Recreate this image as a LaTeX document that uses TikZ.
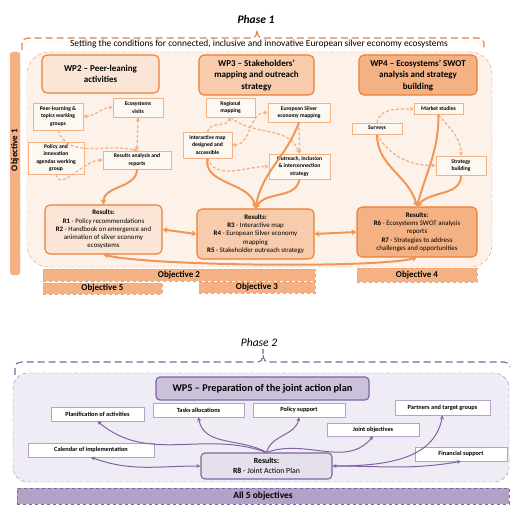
\documentclass[tikz,border=0pt]{standalone}
\usepackage{fontspec}
\setmainfont{Carlito}
\usepackage{tikz}
\usetikzlibrary{arrows.meta, positioning}
\definecolor{accent}{RGB}{237,125,49}
\definecolor{flowcol}{RGB}{241,150,84}
\definecolor{peachline}{RGB}{244,177,131}
\definecolor{wpfillA}{RGB}{251,229,214}
\definecolor{wpfillB}{RGB}{248,203,173}
\definecolor{wpfillC}{RGB}{244,177,131}
\definecolor{regfill}{RGB}{253,242,234}
\definecolor{subfill}{RGB}{254,248,243}
\definecolor{purp}{RGB}{128,100,162}
\definecolor{purplight}{RGB}{179,162,199}
\definecolor{regfillB}{RGB}{240,236,246}
\definecolor{wpfillD}{RGB}{204,193,218}
\definecolor{resfillD}{RGB}{229,224,236}
\newcommand{\sz}[2]{\fontsize{#1}{#2}\selectfont}

\begin{document}
\begin{tikzpicture}[
        x=1pt, y=1pt,
        wh/.style 2 args={minimum width=#1pt, minimum height=#2pt},
        wp/.style={draw=accent, line width=1.1pt, rounded corners=5pt,
                   align=center, inner sep=1pt, font=\sz{9}{11.5}\bfseries},
        sub/.style={draw=peachline, line width=0.6pt, fill=subfill,
                    align=center, inner sep=1pt, font=\sz{5.6}{7.5}\bfseries},
        res/.style={draw=accent, line width=1.1pt, rounded corners=5pt,
                    align=center, inner sep=1pt, font=\sz{6.9}{8.3}},
        obj/.style={draw=accent!70, dashed, fill=wpfillC, inner sep=0pt,
                    font=\sz{9}{10}\bfseries},
        flow/.style={draw=flowcol, line width=2pt, ->,
                     >={Stealth[length=5pt, width=6pt]}},
        link/.style={draw=peachline, line width=1.3pt, dash pattern=on 3pt off 2pt,
                     ->, >={Stealth[length=4pt, width=4.5pt]}},
        brace/.style={line width=1.1pt, dash pattern=on 7pt off 4pt},
        psub/.style={draw=purplight, line width=0.6pt, fill=white,
                     inner sep=1pt, font=\sz{6.3}{7.5}\bfseries},
        plink/.style={draw=purp, line width=1pt, ->,
                      >={Stealth[length=4pt, width=4pt]}},
      ]
        \useasboundingbox (0,0) rectangle (522,522);

        % ── Phase 1 frame ──
        \node[font=\sz{11.5}{13}\bfseries\itshape] (phaseA) at (256,502) {Phase 1};
        \draw[brace, accent] (22,472) -- (22,479) to[out=90,in=180] (28,484)
          -- (252,484) to[out=0,in=-90] (257,493) to[out=-90,in=180] (262,484)
          -- (478,484) to[out=0,in=90] (484,479) -- (484,474);
        \node[font=\sz{9.4}{11}] (goal) at (259,478)
          {Setting the conditions for connected, inclusive and innovative European silver economy ecosystems};
        \node[draw=accent!80, fill=regfill, dash pattern=on 4pt off 2.5pt,
              rounded corners=22pt, wh={465}{215}] (regA) at (259.5,362.5) {};
        \node[obj, rounded corners=3pt, wh={10}{223}] (obj1) at (15,358.5) {};
        \node[font=\sz{9}{10}\bfseries, rotate=90] (obj1txt) at (15,372) {Objective 1};

        % ── Work packages ──
        \node[wp, fill=wpfillA, wh={117}{38}] (wpA) at (100.5,448) {WP2 – Peer-leaning\\activities};
        \node[wp, fill=wpfillB, wh={115}{40}] (wpB) at (256.5,447) {WP3 – Stakeholders’\\mapping and outreach\\strategy};
        \node[wp, fill=wpfillC, wh={118}{40}] (wpC) at (418,447) {WP4 – Ecosystems’ SWOT\\analysis and strategy\\building};

        % ── WP2 activities ──
        \node[sub, wh={50}{27}] (peer)     at (58,405.5)  {Peer-learning \&\\topics working\\groups};
        \node[sub, wh={50}{19}] (visits)   at (138,414.5) {Ecosystems\\visits};
        \node[sub, wh={56}{32}] (policy)   at (56,364)    {Policy and\\innovation\\agendas working\\group};
        \node[sub, wh={68}{18}] (analysis) at (137,362)   {Results analysis and\\reports};

        \draw[link, <->] (peer.east) to[out=0,in=180] (visits.west);
        \draw[link] (peer.south) to[out=-70,in=165] (analysis.north);
        \draw[link, <->] (visits.south) -- (analysis.north);
        \draw[link] (policy.south) to[out=-80,in=180] (analysis.west);

        % ── WP3 activities ──
        \node[sub, wh={49}{19}] (regional) at (230.5,414.5) {Regional\\mapping};
        \node[sub, wh={62}{19}] (eumap)    at (299,409.5)   {European Silver\\economy mapping};
        \node[sub, wh={49}{26}] (intmap)   at (207.5,377)   {Interactive map\\designed and\\accessible};
        \node[sub, wh={61}{25}] (outreach) at (299.5,355.5) {Outreach, inclusion\\\& interconnection\\strategy};

        \draw[link] (intmap.north) to[out=80,in=-110] (regional.south);
        \draw[link] (regional.south) to[out=-40,in=110] (outreach.north);
        \draw[link, <->] (intmap.east) to[out=0,in=180] (eumap.west);
        \draw[link] (intmap.south) to[out=-70,in=180] (outreach.west);
        \draw[link] (eumap.south) -- (outreach.north);

        % ── WP4 activities ──
        \node[sub, wh={49}{11}] (market)   at (438.5,413) {Market studies};
        \node[sub, wh={50}{11}] (surveys)  at (377,393.5) {Surveys};
        \node[sub, wh={50}{19}] (strategy) at (461,356.5) {Strategy\\building};

        \draw[link] (surveys.north) to[out=80,in=180] (market.west);
        \draw[link] (market.south) to[out=-50,in=90] (strategy.north);
        \draw[link] (surveys.south) to[out=-60,in=180] (strategy.west);

        % ── Results ──
        \node[res, fill=wpfillA, wh={117}{49}] (resA) at (103.5,292.5)
          {\textbf{Results:}\\\textbf{R1} - Policy recommendations\\\textbf{R2} - Handbook on emergence and\\animation of silver economy\\ecosystems};
        \node[res, fill=wpfillB, wh={117}{50}] (resB) at (255.5,288)
          {\textbf{Results:}\\\textbf{R3} - Interactive map\\\textbf{R4} - European Silver economy\\mapping\\\textbf{R5} - Stakeholder outreach strategy};
        \node[res, fill=wpfillC, wh={120}{50}] (resC) at (417,290)
          {\textbf{Results:}\\\textbf{R6} - Ecosystems SWOT analysis\\reports\\\textbf{R7} - Strategies to address\\challenges and opportunities};

        \draw[flow] (analysis.south) to[out=-90,in=90] (resA.north);
        \draw[flow] (intmap.south) to[out=-100,in=100] (resB.north);
        \draw[flow] (eumap.south) to[out=-110,in=80] (resB.north);
        \draw[flow] (outreach.south) to[out=-100,in=60] (resB.north);
        \draw[flow] (surveys.south) to[out=-90,in=105] (resC.north);
        \draw[flow] (market.south) to[out=-90,in=75] (resC.north);
        \draw[flow] (strategy.south) to[out=-90,in=50] (resC.north);
        \draw[flow, <->] (resA.east) -- (resB.west);
        \draw[flow, <->] (resB.east) -- (resC.west);
        \draw[flow, <->] (resA.south) to[out=-15,in=-165,looseness=0.35] (resC.south);

        % ── Objectives ──
        \node[obj, wh={272}{12}] (obj2) at (179,247)   {Objective 2};
        \node[obj, wh={119}{11}] (obj5) at (102.5,233.5) {Objective 5};
        \node[obj, wh={116}{11}] (obj3) at (257,234.5) {Objective 3};
        \node[obj, wh={120}{14}] (obj4) at (417,247)   {Objective 4};

        % ── Phase 2 frame ──
        \node[font=\sz{11.5}{13}\itshape] (phaseB) at (259,179) {Phase 2};
        \draw[brace, purp] (15,147) -- (15,155) to[out=90,in=180] (21,160)
          -- (258,160) to[out=0,in=-90] (263,173) to[out=-90,in=180] (268,160)
          -- (504,160) to[out=0,in=90] (510,155);
        \node[draw=purp!80, fill=regfillB, dash pattern=on 4pt off 2.5pt,
              rounded corners=15pt, wh={496}{109}] (regB) at (261,94.5) {};
        \node[draw=purp, line width=1.2pt, fill=wpfillD, rounded corners=4pt,
              wh={213}{23}, font=\sz{10.3}{12}\bfseries] (wpD) at (262.5,133.5)
          {WP5 – Preparation of the joint action plan};

        % ── WP5 tasks ──
        \node[psub, wh={93}{14}]  (plan)     at (97.5,108)  {Planification of activities};
        \node[psub, wh={91}{14}]  (tasks)    at (198.5,112) {Tasks allocations};
        \node[psub, wh={92}{14}]  (polsup)   at (299,112)   {Policy support};
        \node[psub, wh={95}{15}]  (partners) at (442.5,114.5) {Partners and target groups};
        \node[psub, wh={92}{13}]  (jointobj) at (373,92.5)  {Joint objectives};
        \node[psub, wh={126}{14}] (calendar) at (91,72)     {Calendar of implementation};
        \node[psub, wh={92}{14}]  (finance)  at (461,68)    {Financial support};

        \node[draw=purp, line width=1.1pt, fill=resfillD, rounded corners=4pt,
              wh={131}{26}, align=center, font=\sz{7.8}{9.5}] (resD) at (266.5,56)
          {\textbf{Results:}\\\textbf{R8} - Joint Action Plan};

        \draw[plink] (resD.north) to[out=160,in=-40] (plan.south);
        \draw[plink] (resD.north) to[out=150,in=-80] (tasks.south);
        \draw[plink] (resD.north) to[out=75,in=-100] (polsup.south);
        \draw[plink] (resD.north) to[out=20,in=-130] (jointobj.south);
        \draw[plink] (resD.east) to[out=0,in=-100] (partners.south);
        \draw[plink, <->] (calendar.south) to[out=-20,in=180] (resD.west);
        \draw[plink, <->] (resD.east) to[out=0,in=-170] (finance.south);

        \node[draw=purp, dashed, fill=purplight, wh={492}{16}, inner sep=0pt,
              font=\sz{9.5}{11}\bfseries] (allobj) at (263,26) {All 5 objectives};
      \end{tikzpicture}
\end{document}
